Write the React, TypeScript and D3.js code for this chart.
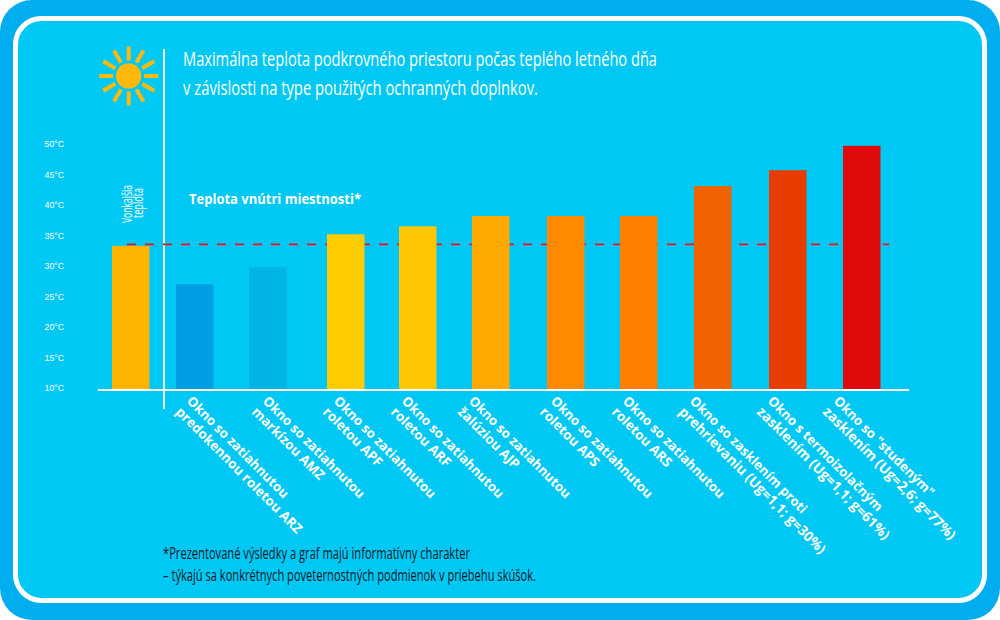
import React from "react";
import * as d3 from "d3";

const tickValues = [10, 15, 20, 25, 30, 35, 40, 45, 50];
const categories = ["out", "arz", "amz", "apf", "arf", "ajp", "aps", "ars", "proti", "termo", "stud"];
const temps = [33.3, 27.0, 29.8, 35.2, 36.5, 38.2, 38.2, 38.2, 43.1, 45.7, 49.7];
const barColors = ["#ffb400", "#009fe3", "#00b4e6", "#ffcc00", "#ffc800", "#ffaa00", "#ff8a00", "#ff8000", "#ef6400", "#e83c00", "#e10a0a"];
const labelFirst = ["", "Okno so zatiahnutou", "Okno so zatiahnutou", "Okno so zatiahnutou", "Okno so zatiahnutou", "Okno so zatiahnutou", "Okno so zatiahnutou", "Okno so zatiahnutou", "Okno so zasklením proti", "Okno s termoizolačným", "Okno so \"studeným\""];
const labelSecond = ["", "predokennou roletou ARZ", "markízou AMZ", "roletou APF", "roletou ARF", "žalúziou AJP", "roletou APS", "roletou ARS", "prehrievaniu (Ug=1,1; g=30%)", "zasklením (Ug=1,1; g=61%)", "zasklením (Ug=2,6; g=77%)"];
const insideTemp = 33.55;
const titleLines = ["Maximálna teplota podkrovného priestoru počas teplého letného dňa", "v závislosti na type použitých ochranných doplnkov."];
const noteLines = ["*Prezentované výsledky a graf majú informatívny charakter", "– týkajú sa konkrétnych poveternostných podmienok v priebehu skúšok."];

const barLefts = [112, 176, 249, 327, 399, 472, 547, 620, 694, 769, 843];
const labelLefts = [0, 187, 263, 334, 402, 469, 551, 623, 690, 768, 834];
const y = d3.scaleLinear().domain([10, 50]).range([388, 144]);
const xBar = d3.scaleOrdinal<string, number>().domain(categories).range(barLefts);
const xLabel = d3.scaleOrdinal<string, number>().domain(categories).range(labelLefts);
const barW = 37.5;
const baseY = 390;
const sunRays = d3.range(12).map((i) => (i * Math.PI) / 6);
const OS = "'Open Sans', sans-serif";

export default function App() {
  return (
    <svg width={1000} height={620} viewBox="0 0 1000 620" style={{ position: "absolute", left: 0, top: 0, background: "#fff" }}>
      <rect x={0} y={0} width={1000} height={620} rx={32} fill="#00aeef" />
      <rect x={15.5} y={18.5} width={969} height={582} rx={26} fill="#00c8f4" stroke="#fff" strokeWidth={5} />

      <circle cx={128.7} cy={76} r={12.7} fill="#ffb80c" />
      {sunRays.map((a, i) => (
        <line key={i} x1={128.7 + 15.5 * Math.cos(a)} y1={76 + 15.5 * Math.sin(a)} x2={128.7 + 29.5 * Math.cos(a)} y2={76 + 29.5 * Math.sin(a)} stroke="#ffb80c" strokeWidth={4} />
      ))}

      <line x1={164} x2={164} y1={49} y2={409} stroke="#e8f9fe" strokeWidth={2} />
      <line x1={127} x2={889} y1={y(insideTemp)} y2={y(insideTemp)} stroke="#f01020" strokeWidth={1.6} strokeDasharray="9 9" />

      {categories.map((c, i) => (
        <rect key={c} x={xBar(c)} y={y(temps[i])} width={barW} height={baseY - y(temps[i])} fill={barColors[i]} />
      ))}
      <line x1={98} x2={909} y1={baseY} y2={baseY} stroke="#fff" strokeWidth={2} />

      {tickValues.map((t) => (
        <text key={t} x={44.5} y={y(t)} dy="0.35em" fontFamily="'Liberation Sans', sans-serif" fontSize={8.8} fill="#fff">{`${t}°C`}</text>
      ))}

      {titleLines.map((s, i) => (
        <text key={i} x={183} y={66 + i * 28.5} fontFamily={OS} fontSize={20} fill="#fff" textLength={i === 0 ? 474 : 355} lengthAdjust="spacingAndGlyphs">{s}</text>
      ))}

      <text x={189} y={204} fontFamily={OS} fontWeight={700} fontSize={13.5} fill="#fff" textLength={172} lengthAdjust="spacingAndGlyphs">Teplota vnútri miestnosti*</text>

      <text transform="translate(132,223) rotate(-90)" fontFamily={OS} fontSize={14} fill="#fff" textLength={38} lengthAdjust="spacingAndGlyphs">Vonkajšia</text>
      <text transform="translate(143,218) rotate(-90)" fontFamily={OS} fontSize={14} fill="#fff" textLength={30} lengthAdjust="spacingAndGlyphs">teplota</text>

      {categories.slice(1).map((c, k) => {
        const i = k + 1;
        const x0 = xLabel(c);
        return (
          <g key={c} transform={`translate(${x0 + 4},${401}) rotate(45)`} fontFamily={OS} fontWeight={700} fill="#fff">
            <text x={-3} y={4} fontSize={13.2}>{labelFirst[i]}</text>
            <text x={-3} y={19.5} fontSize={i >= 8 ? 13.9 : 13.4}>{labelSecond[i]}</text>
          </g>
        );
      })}

      {noteLines.map((s, i) => (
        <text key={i} x={163} y={559 + i * 22} fontFamily={OS} fontSize={15.5} fill="#0a1a28" textLength={i === 0 ? 307 : 373} lengthAdjust="spacingAndGlyphs">{s}</text>
      ))}
    </svg>
  );
}
